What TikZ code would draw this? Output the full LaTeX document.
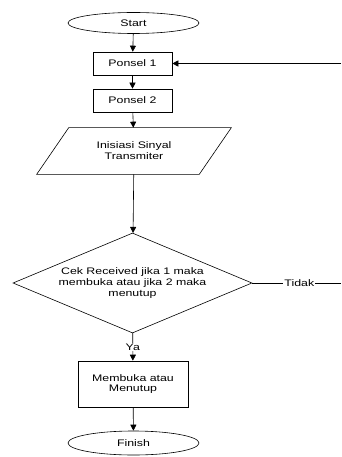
\documentclass[tikz,border=0pt]{standalone}
\usepackage{fontspec}
\setmainfont[FakeStretch=1.3]{Liberation Sans}
\usepackage{tikz}
\usetikzlibrary{arrows.meta,shapes.geometric}

\begin{document}
\begin{tikzpicture}[x=1pt,y=-1pt,line width=0.6pt,
  every node/.style={font=\fontsize{9.5}{10.8}\selectfont,align=center,inner sep=0pt},
  term/.style={draw,ellipse,minimum width=131pt,minimum height=21pt},
  proc/.style={draw,rectangle,minimum height=23pt},
  io/.style={rectangle,minimum width=130pt,minimum height=46pt},
  cond/.style={draw,diamond,aspect=2.39,minimum width=239pt,minimum height=100pt},
  lbl/.style={fill=white,inner sep=1pt}]

\useasboundingbox (0,0) rectangle (342,457);

\node[term] (start) at (133.5,23) {Start};
\node[proc,minimum width=79pt] (p1) at (132.5,63.5) {Ponsel 1};
\node[proc,minimum width=79pt] (p2) at (132.5,100.5) {Ponsel 2};
\node[io] (init) at (134,151) {Inisiasi Sinyal\\Transmiter};
\node[cond] (cek) at (132.5,283) {Cek Received jika 1 maka\\membuka atau jika 2 maka\\menutup};
\node[proc,minimum width=110pt,minimum height=46pt] (buka) at (133,384) {Membuka atau\\Menutup};
\node[term,minimum height=24pt] (finish) at (133.5,443) {Finish};

% jajaran genjang input
\draw ([xshift=-32pt]init.south west) -- (init.north west) -- ([xshift=32pt]init.north east) -- (init.south east) -- cycle;

\coordinate (kanan1) at (341,63.5);
\coordinate (kanan2) at (341,283);

\path[-{Triangle[length=6pt,width=6pt]}] (start) edge (p1) (p1) edge (p2) (p2) edge (init)
  (init) edge (cek) (buka) edge (finish) (kanan1) edge (p1);
\draw[-{Triangle[length=6pt,width=6pt]}] (cek) -- node[lbl] {Ya} (buka);
\draw (cek.east) -- node[lbl,pos=0.53] {Tidak} (kanan2);

\end{tikzpicture}
\end{document}
